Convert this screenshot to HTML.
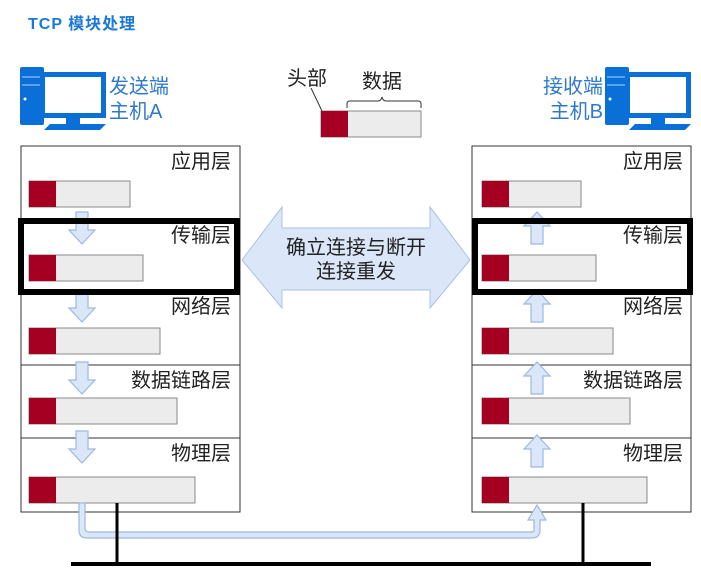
<!DOCTYPE html>
<html><head><meta charset="utf-8"><style>
html,body{margin:0;padding:0;background:#fff;width:701px;height:578px;overflow:hidden}
svg{display:block}
text{font-family:"Liberation Sans","Noto Sans CJK SC",sans-serif}
</style></head><body>
<svg width="701" height="578" viewBox="0 0 701 578" xmlns="http://www.w3.org/2000/svg">
<defs>
<g id="pc">
<rect x="0" y="0" width="24" height="58" rx="2" fill="#0a6fd6"/>
<rect x="2" y="9" width="20" height="2" fill="#5aa0ea"/>
<rect x="2" y="17" width="20" height="2" fill="#5aa0ea"/>
<circle cx="5" cy="32" r="1.5" fill="#fff"/>
<rect x="20" y="5" width="66" height="46" fill="#0a6fd6"/>
<rect x="25" y="10" width="56" height="36" fill="#fff"/>
<rect x="46" y="51" width="14" height="6" fill="#0a6fd6"/>
<polygon points="24,63 80,63 86,57 30,57" fill="#0a6fd6"/>
</g>
<g id="dn"><polygon points="-6,0 6,0 6,18 13,18 0,32 -13,18 -6,18" fill="#dbe7f8" stroke="#9db8e0" stroke-width="1.2"/></g>
<g id="up"><polygon points="-6,32 6,32 6,14 13,14 0,0 -13,14 -6,14" fill="#dbe7f8" stroke="#9db8e0" stroke-width="1.2"/></g>
</defs>

<text x="28" y="29" font-size="16" font-weight="bold" fill="#1a78d6" letter-spacing="1">TCP 模块处理</text>

<use href="#pc" x="20" y="67"/>
<text x="109" y="93" font-size="20" fill="#2e78cf">发送端</text>
<text x="109" y="118" font-size="20" fill="#2e78cf">主机A</text>

<use href="#pc" x="605" y="67"/>
<text x="603" y="93" font-size="20" fill="#2e78cf" text-anchor="end">接收端</text>
<text x="603" y="118" font-size="20" fill="#2e78cf" text-anchor="end">主机B</text>

<text x="287" y="85" font-size="20" fill="#222">头部</text>
<text x="362" y="88" font-size="20" fill="#222">数据</text>
<line x1="311" y1="88" x2="322" y2="111" stroke="#333" stroke-width="1"/>
<path d="M347,108 v-4 q0,-3 3,-3 h28 q3,0 4,-4 q1,4 4,4 h32 q3,0 3,3 v4" fill="none" stroke="#333" stroke-width="1"/>
<rect x="321" y="111" width="100" height="26" fill="#ececec" stroke="#888"/>
<rect x="321" y="111" width="27" height="26" fill="#a50021"/>

<g stroke="#333" stroke-width="1" fill="#fff">
<rect x="21" y="146" width="219" height="366"/>
<line x1="21" y1="365" x2="240" y2="365"/>
<line x1="21" y1="438" x2="240" y2="438"/>
<rect x="472" y="146" width="219" height="366"/>
<line x1="472" y1="365" x2="691" y2="365"/>
<line x1="472" y1="438" x2="691" y2="438"/>
</g>
<g font-size="20" fill="#222" text-anchor="end">
<text x="231" y="168">应用层</text>
<text x="231" y="242">传输层</text>
<text x="231" y="313">网络层</text>
<text x="231" y="387">数据链路层</text>
<text x="231" y="460">物理层</text>
<text x="683" y="168">应用层</text>
<text x="683" y="242">传输层</text>
<text x="683" y="313">网络层</text>
<text x="683" y="387">数据链路层</text>
<text x="683" y="460">物理层</text>
</g>
<g stroke="#888" stroke-width="1" fill="#ececec">
<rect x="29" y="181" width="101" height="26"/>
<rect x="29" y="255" width="114" height="26"/>
<rect x="29" y="328" width="131" height="26"/>
<rect x="29" y="398" width="148" height="26"/>
<rect x="29" y="477" width="166" height="26"/>
<rect x="482" y="181" width="99" height="26"/>
<rect x="482" y="255" width="114" height="26"/>
<rect x="482" y="328" width="131" height="26"/>
<rect x="482" y="398" width="148" height="26"/>
<rect x="482" y="477" width="165" height="26"/>
</g>
<g fill="#a50021">
<rect x="29" y="181" width="27" height="26"/>
<rect x="29" y="255" width="27" height="26"/>
<rect x="29" y="328" width="27" height="26"/>
<rect x="29" y="398" width="27" height="26"/>
<rect x="29" y="477" width="27" height="26"/>
<rect x="482" y="181" width="27" height="26"/>
<rect x="482" y="255" width="27" height="26"/>
<rect x="482" y="328" width="27" height="26"/>
<rect x="482" y="398" width="27" height="26"/>
<rect x="482" y="477" width="27" height="26"/>
</g>

<use href="#dn" x="82" y="212"/>
<use href="#dn" x="82" y="290"/>
<use href="#dn" x="82" y="362"/>
<use href="#dn" x="82" y="431"/>
<use href="#up" x="537" y="212"/>
<use href="#up" x="537" y="290"/>
<use href="#up" x="537" y="362"/>
<use href="#up" x="537" y="435"/>

<rect x="21" y="221" width="216" height="71" fill="none" stroke="#000" stroke-width="6"/>
<rect x="475" y="221" width="215" height="71" fill="none" stroke="#000" stroke-width="6"/>

<polygon points="242,260 282,207 282,228 430,228 430,207 470,260 430,308 430,290 282,290 282,308" fill="#dbe7f8" stroke="#a8c0e4" stroke-width="1"/>
<text x="356" y="254" font-size="20" fill="#222" text-anchor="middle">确立连接与断开</text>
<text x="356" y="278" font-size="20" fill="#222" text-anchor="middle">连接重发</text>

<path d="M79,503 V530 q0,8 8,8 H532 q8,0 8,-8 V520 H546 L537,505 L528,520 H534 V530 q0,2 -2,2 H89 q-4,0 -4,-4 V503 Z" fill="#dbe7f8" stroke="#9db8e0" stroke-width="1.2"/>
<line x1="117" y1="503" x2="117" y2="563" stroke="#000" stroke-width="3"/>
<line x1="583" y1="503" x2="583" y2="563" stroke="#000" stroke-width="3"/>
<line x1="71" y1="564" x2="651" y2="564" stroke="#000" stroke-width="4"/>
</svg>
</body></html>
